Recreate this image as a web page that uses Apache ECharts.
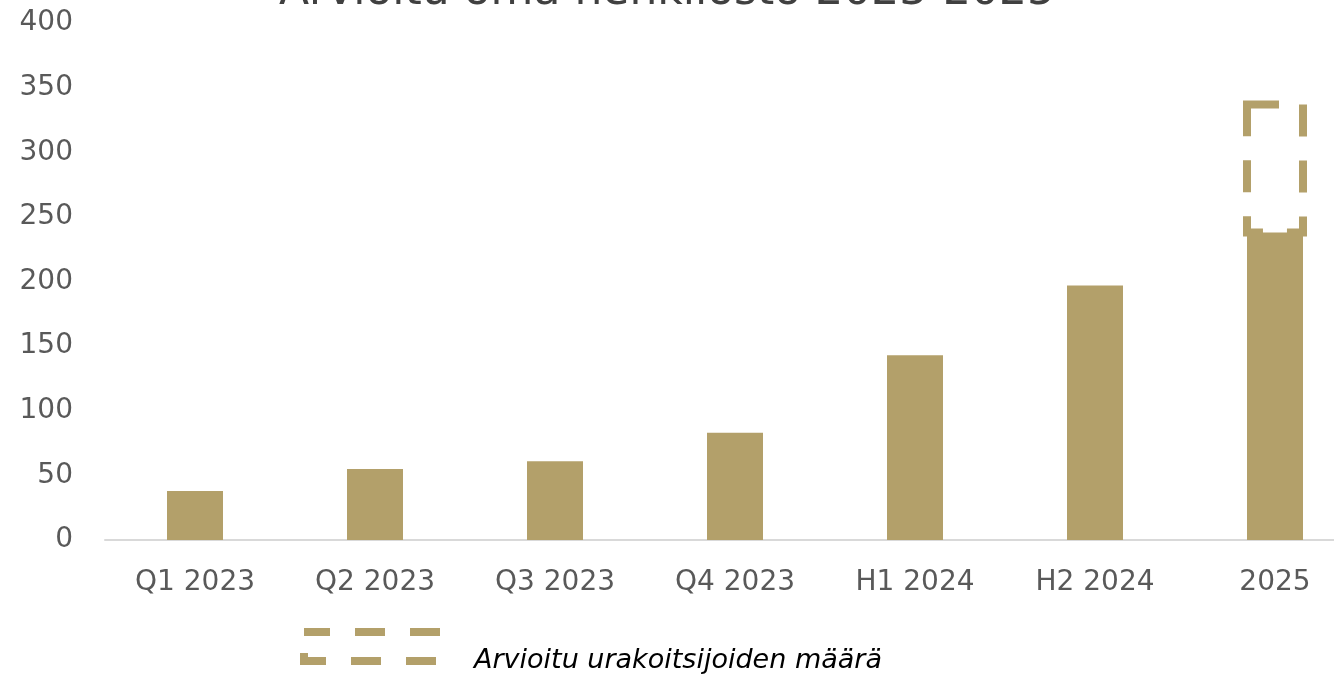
<!DOCTYPE html>
<html>
<head>
<meta charset="utf-8">
<script src="https://cdn.jsdelivr.net/npm/echarts@6/dist/echarts.min.js"></script>
<style>html,body{margin:0;padding:0;background:#fff}#c{width:1334px;height:674px}</style>
</head>
<body>
<div id="c"></div>
<script>
const titleText = 'Arvioitu oma henkilöstö 2023-2025';
const categories = ['Q1 2023', 'Q2 2023', 'Q3 2023', 'Q4 2023', 'H1 2024', 'H2 2024', '2025'];
const staff = [38, 55, 61, 83, 143, 197, 238];
const contractorsName = 'Arvioitu urakoitsijoiden määrä';
// [category index, estimated contractors] stacked on top of own staff
const contractors = [[6, 99]];
const yTicks = { min: 0, max: 400, interval: 50 };

const gold = '#b3a06a';
const font = 'DejaVu Sans';
const barW = 56;
const chart = echarts.init(document.getElementById('c'));
chart.setOption({
  animation: false,
  title: {
    text: titleText, left: 'center', top: -34,
    textStyle: { fontFamily: font, fontSize: 44, fontWeight: 'normal', color: '#404040' }
  },
  legend: [
    {
      data: [{ name: contractorsName, icon: 'rect' }], left: 300, top: 628, padding: 0,
      itemWidth: 132, itemHeight: 29, formatter: function () { return ''; },
      itemStyle: { color: 'rgba(0,0,0,0)', borderColor: gold, borderWidth: 8, borderType: [30, 25], borderDashOffset: 4 },
      textStyle: { fontSize: 1 }
    },
    {
      data: [{ name: contractorsName }], left: 468, top: 647, padding: 0,
      itemWidth: 1, itemHeight: 1,
      itemStyle: { opacity: 0 },
      textStyle: { fontFamily: font, fontSize: 27, fontStyle: 'italic', color: '#000' }
    }
  ],
  grid: { left: 105, width: 1260, top: 23, bottom: 134, containLabel: false, outerBoundsMode: 'none' },
  xAxis: {
    type: 'category', data: categories,
    axisLine: { lineStyle: { color: '#d9d9d9', width: 2 } },
    axisTick: { show: false },
    axisLabel: { fontFamily: font, fontSize: 28, color: '#595959', margin: 29 }
  },
  yAxis: {
    type: 'value', min: yTicks.min, max: yTicks.max, interval: yTicks.interval,
    splitLine: { show: false }, axisLine: { show: false }, axisTick: { show: false },
    axisLabel: { fontFamily: font, fontSize: 28, color: '#595959', margin: 32 }
  },
  series: [
    { type: 'bar', name: 'Oma henkilöstö', data: staff, barWidth: barW,
      itemStyle: { color: gold } },
    { type: 'custom', name: contractorsName, data: contractors, z: 3,
      encode: { x: 0, y: 1 },
      renderItem: function (params, api) {
        const idx = api.value(0);
        const base = staff[idx];
        const top = api.coord([idx, base + api.value(1)]);
        const bottom = api.coord([idx, base]);
        return {
          type: 'rect',
          shape: { x: top[0] - barW / 2, y: top[1], width: barW, height: bottom[1] - top[1] },
          style: { fill: 'none', stroke: gold, lineWidth: 8, lineDash: [32, 24], lineDashOffset: 0 }
        };
      }
    }
  ]
});
</script>
</body>
</html>
